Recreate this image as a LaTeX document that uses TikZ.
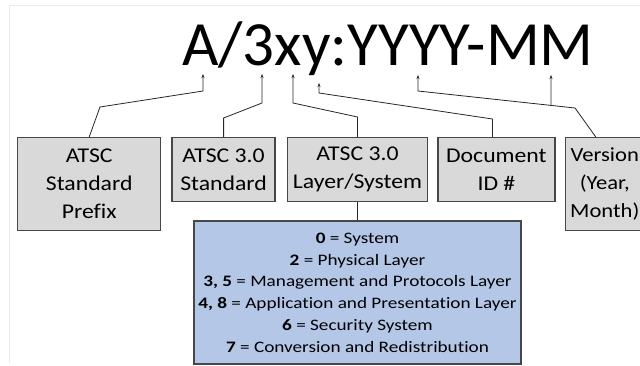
\documentclass[tikz,border=0pt]{standalone}
\usepackage{fontspec}
\setmainfont{Carlito}
\newfontfamily\boxfont[FakeStretch=1.13,Ligatures=NoCommon]{Carlito}
\newfontfamily\codefont[FakeStretch=1.2,Ligatures=NoCommon]{Carlito}
\usepackage{tikz}
\usepackage{xcolor}
\usetikzlibrary{arrows.meta, positioning, calc}
\definecolor{boxgrey}{HTML}{D9D9D9}
\definecolor{boxblue}{HTML}{B4C7E7}
\definecolor{boxline}{HTML}{474747}
\definecolor{frameline}{HTML}{EBEBEB}
\tikzstyle{arrow} = [line width=0.8pt,->,draw=black!85]
\tikzstyle{link} = [line width=0.8pt,draw=black!85]
\tikzstyle{field} = [draw=boxline,line width=1.4pt,fill=boxgrey,inner sep=0pt,align=center,anchor=north west,font=\boxfont\fontsize{21}{28}\selectfont]

\begin{document}
\begin{tikzpicture}[x=1pt,y=-1pt,>={Stealth[length=4pt,width=3pt]}]
    \useasboundingbox (0,0) rectangle (640,365);
    \draw[frameline] (640,5) -- (9,5) -- (9,363);

    % document number and the points under its parts
    \node[anchor=base west,inner sep=0pt,font=\fontsize{63}{70}\selectfont] (number) at (182,65) {A/3xy:YYYY-MM};
    \coordinate (atip) at (203,74);
    \coordinate (threetip) at (262,74);
    \coordinate (xtip) at (293,74);
    \coordinate (ytip) at (319,83);
    \coordinate (yeartip) at (418,75);
    \coordinate (monthtip) at (551,75);
    \coordinate (yearbend) at (418,91);
    \coordinate (verbend) at (575,108);

    % fields
    \node[field,minimum width=143pt,minimum height=93pt] (prefix) at (17,137) {ATSC\\Standard\\Prefix};
    \node[field,minimum width=103pt,minimum height=64pt,right=10pt of prefix.north east,anchor=north west] (std) {ATSC 3.0\\Standard};
    \node[field,minimum width=140pt,minimum height=64pt,right=11pt of std.north east,anchor=north west] (layer) {ATSC 3.0\\Layer/System};
    \node[field,minimum width=117pt,minimum height=64pt,right=9pt of layer.north east,anchor=north west] (docid) {Document\\ID \#};
    \node[field,minimum width=79pt,minimum height=93pt,right=9pt of docid.north east,anchor=north west,font=\boxfont\fontsize{20}{28}\selectfont] (version) {Version\\(Year,\\Month)};
    \node[field,fill=boxblue,minimum width=327pt,minimum height=143pt,below=18pt of layer.south,anchor=north,font=\codefont\fontsize{16}{21.7}\selectfont] (codes) {%
        \textbf{0} = System\\
        \textbf{2} = Physical Layer\\
        \textbf{3, 5} = Management and Protocols Layer\\
        \textbf{4, 8} = Application and Presentation Layer\\
        \textbf{6} = Security System\\
        \textbf{7} = Conversion and Redistribution};

    % connectors
    \draw[arrow] (prefix.north) -- (100,107) -- (203,91) -- (atip);
    \draw[arrow] (std.north) -- +(0,-19) -- (262,103) -- (threetip);
    \draw[arrow] (layer.north) -- +(0,-20) -- (293,103) -- (xtip);
    \draw[arrow] ([xshift=-4pt]docid.north) -- +(0,-18) -- (319,93) -- (ytip);
    \draw[arrow] ([xshift=-9pt]version.north) -- (verbend) -- (yearbend) -- (yeartip);
    \draw[arrow] ($(yearbend)!0.847!(verbend)$) -- (monthtip);
    \draw[link] (layer.south) -- (codes.north);
\end{tikzpicture}
\end{document}
